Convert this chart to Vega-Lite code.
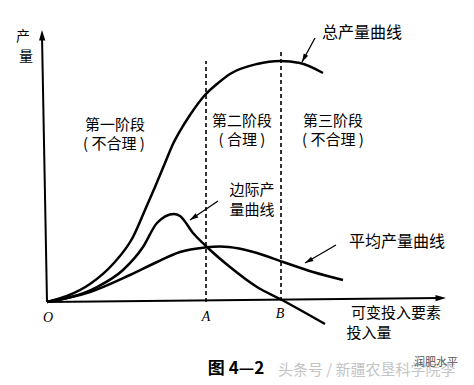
{
  "$schema": "https://vega.github.io/schema/vega-lite/v6.json",
  "width": 474,
  "height": 385,
  "padding": 0,
  "autosize": {"type": "none"},
  "background": "white",
  "config": {"view": {"stroke": null}},
  "encoding": {
    "x": {"field": "x", "type": "quantitative", "scale": {"domain": [-47, 427], "nice": false, "zero": false}, "axis": null},
    "y": {"field": "y", "type": "quantitative", "scale": {"domain": [-83, 302], "nice": false, "zero": false}, "axis": null}
  },
  "layer": [
    {
      "data": {"values": [
        {"curve": "TP", "x": 0, "y": 0}, {"curve": "TP", "x": 20, "y": 6}, {"curve": "TP", "x": 43, "y": 18},
        {"curve": "TP", "x": 66, "y": 38}, {"curve": "TP", "x": 86, "y": 65}, {"curve": "TP", "x": 98, "y": 92},
        {"curve": "TP", "x": 108, "y": 115}, {"curve": "TP", "x": 118, "y": 139}, {"curve": "TP", "x": 126, "y": 158},
        {"curve": "TP", "x": 133, "y": 171}, {"curve": "TP", "x": 143, "y": 187}, {"curve": "TP", "x": 158, "y": 207},
        {"curve": "TP", "x": 170, "y": 218}, {"curve": "TP", "x": 183, "y": 228}, {"curve": "TP", "x": 210, "y": 238},
        {"curve": "TP", "x": 233, "y": 241}, {"curve": "TP", "x": 253, "y": 239}, {"curve": "TP", "x": 276, "y": 229},
        {"curve": "MP", "x": 0, "y": 0}, {"curve": "MP", "x": 50, "y": 15}, {"curve": "MP", "x": 76, "y": 32},
        {"curve": "MP", "x": 96, "y": 55}, {"curve": "MP", "x": 110, "y": 79}, {"curve": "MP", "x": 127, "y": 88},
        {"curve": "MP", "x": 133, "y": 86}, {"curve": "MP", "x": 146, "y": 69}, {"curve": "MP", "x": 161, "y": 54},
        {"curve": "MP", "x": 183, "y": 35}, {"curve": "MP", "x": 210, "y": 15}, {"curve": "MP", "x": 235, "y": 2},
        {"curve": "MP", "x": 278, "y": -22},
        {"curve": "AP", "x": 0, "y": 0}, {"curve": "AP", "x": 43, "y": 10}, {"curve": "AP", "x": 83, "y": 27},
        {"curve": "AP", "x": 110, "y": 40}, {"curve": "AP", "x": 133, "y": 50}, {"curve": "AP", "x": 158, "y": 54.5},
        {"curve": "AP", "x": 173, "y": 55.5}, {"curve": "AP", "x": 192, "y": 53.5}, {"curve": "AP", "x": 210, "y": 49},
        {"curve": "AP", "x": 236, "y": 40}, {"curve": "AP", "x": 266, "y": 30}, {"curve": "AP", "x": 296, "y": 22}
      ]},
      "mark": {"type": "line", "interpolate": "monotone", "color": "black", "strokeWidth": 2.5},
      "encoding": {"detail": {"field": "curve"}}
    },
    {
      "data": {"values": [
        {"x": 0, "y": 0, "x2": 393, "y2": 4},
        {"x": 0, "y": 0, "x2": -5, "y2": 266}
      ]},
      "mark": {"type": "rule", "color": "black", "strokeWidth": 2},
      "encoding": {"x2": {"field": "x2"}, "y2": {"field": "y2"}}
    },
    {
      "data": {"values": [
        {"x": 268, "y": 264, "x2": 255, "y2": 240},
        {"x": 171, "y": 101, "x2": 143, "y2": 82},
        {"x": 289, "y": 57, "x2": 258, "y2": 39}
      ]},
      "mark": {"type": "rule", "color": "black", "strokeWidth": 1.3},
      "encoding": {"x2": {"field": "x2"}, "y2": {"field": "y2"}}
    },
    {
      "data": {"values": [
        {"x": 159, "y": 0, "y2": 241},
        {"x": 234, "y": 1, "y2": 250}
      ]},
      "mark": {"type": "rule", "color": "black", "strokeWidth": 1.6, "strokeDash": [4, 3]},
      "encoding": {"y2": {"field": "y2"}}
    },
    {
      "data": {"values": [
        {"x": -5, "y": 272, "angle": -1},
        {"x": 399, "y": 4, "angle": 89}
      ]},
      "mark": {"type": "point", "shape": "M0,0L0.6,2L-0.6,2Z", "filled": true, "color": "black", "opacity": 1, "size": 110},
      "encoding": {"angle": {"field": "angle", "type": "quantitative", "scale": null}}
    },
    {
      "data": {"values": [
        {"x": 255, "y": 240, "angle": 208},
        {"x": 143, "y": 82, "angle": 236},
        {"x": 258, "y": 39, "angle": 240}
      ]},
      "mark": {"type": "point", "shape": "M0,0L0.6,2L-0.6,2Z", "filled": true, "color": "black", "opacity": 1, "size": 70},
      "encoding": {"angle": {"field": "angle", "type": "quantitative", "scale": null}}
    },
    {
      "data": {"values": [
        {"x": 315, "y": 269, "label": "总产量曲线"},
        {"x": 350, "y": 60, "label": "平均产量曲线"}
      ]},
      "mark": {"type": "text", "font": "Noto Sans CJK SC", "fontSize": 16, "color": "black", "align": "center", "baseline": "middle"},
      "encoding": {"text": {"field": "label"}}
    },
    {
      "data": {"values": [
        {"x": 205, "y": 112, "label": "边际产"},
        {"x": 205, "y": 92, "label": "量曲线"},
        {"x": 349, "y": -11, "label": "可变投入要素"},
        {"x": 322, "y": -31, "label": "投入量"},
        {"x": 68, "y": 177, "label": "第一阶段"},
        {"x": 67, "y": 158, "label": "( 不合理 )"},
        {"x": 195, "y": 181, "label": "第二阶段"},
        {"x": 195, "y": 162, "label": "( 合理 )"},
        {"x": 286, "y": 181, "label": "第三阶段"},
        {"x": 286, "y": 162, "label": "( 不合理 )"}
      ]},
      "mark": {"type": "text", "font": "Noto Sans CJK SC", "fontSize": 15, "color": "black", "align": "center", "baseline": "middle"},
      "encoding": {"text": {"field": "label"}}
    },
    {
      "data": {"values": [
        {"x": -24, "y": 265, "label": "产"},
        {"x": -21, "y": 245, "label": "量"}
      ]},
      "mark": {"type": "text", "font": "Noto Sans CJK SC", "fontSize": 14, "color": "black", "align": "center", "baseline": "middle"},
      "encoding": {"text": {"field": "label"}}
    },
    {
      "data": {"values": [
        {"x": 1, "y": -16, "label": "O"},
        {"x": 159, "y": -15, "label": "A"},
        {"x": 233, "y": -12, "label": "B"}
      ]},
      "mark": {"type": "text", "font": "Liberation Serif", "fontStyle": "italic", "fontSize": 14, "color": "black", "align": "center", "baseline": "middle"},
      "encoding": {"text": {"field": "label"}}
    },
    {
      "data": {"values": [{"x": 189, "y": -67, "label": "图 4—2"}]},
      "mark": {"type": "text", "font": "Noto Sans CJK SC", "fontSize": 17, "fontWeight": "bold", "color": "black", "align": "center", "baseline": "middle"},
      "encoding": {"text": {"field": "label"}}
    },
    {
      "data": {"values": [{"x": 231, "y": -68, "label": "头条号 / 新疆农垦科学院李"}]},
      "mark": {"type": "text", "font": "Noto Sans CJK SC", "fontSize": 15, "color": "#c4c4c4", "align": "left", "baseline": "middle"},
      "encoding": {"text": {"field": "label"}}
    },
    {
      "data": {"values": [{"x": 389, "y": -61, "label": "润肥水平"}]},
      "mark": {"type": "text", "font": "Noto Sans CJK SC", "fontSize": 11, "color": "#555555", "align": "center", "baseline": "middle"},
      "encoding": {"text": {"field": "label"}}
    }
  ]
}
